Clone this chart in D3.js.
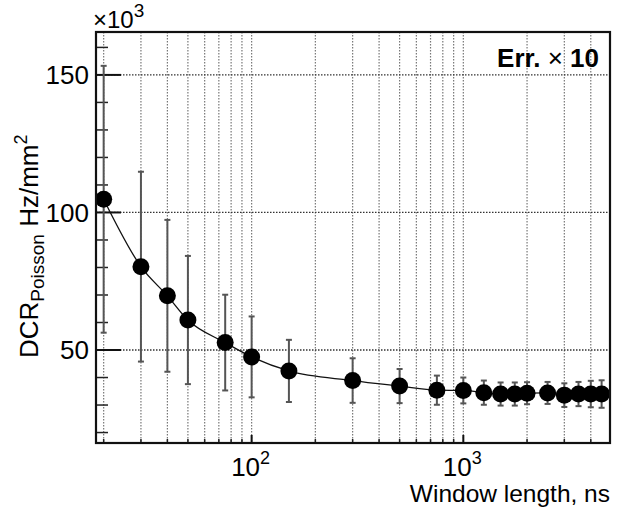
<!DOCTYPE html>
<html>
<head>
<meta charset="utf-8">
<script src="https://cdn.jsdelivr.net/npm/d3@7"></script>
<style>
html,body{margin:0;padding:0;background:#fff;}
svg{display:block;font-family:"Liberation Sans",Arial,Helvetica,sans-serif;}
</style>
</head>
<body>
<svg id="chart" width="632" height="512"></svg>
<script>
// Data (Window length in ns, DCR in 10^3 Hz/mm^2, error shown x10)
const windowLength = [20,30,40,50,75,100,150,300,500,750,1000,1250,1500,1750,2000,2500,3000,3500,4000,4500];
const dcrValues    = [104.8,80.3,69.7,60.9,52.7,47.5,42.4,38.9,36.9,35.4,35.3,34.5,34.0,34.0,34.3,34.4,33.6,34.0,34.0,34.0];
const dcrErrors    = [48.5,34.5,27.6,23.3,17.4,14.7,11.3,8.1,6.2,5.3,4.7,4.4,4.2,4.2,4.0,4.0,4.3,4.4,4.8,5.0];
const yMajorTicks  = [50,100,150];
const yMinorTicks  = [20,30,40,60,70,80,90,110,120,130,140,160];
const xMajorTicks  = [100,1000];
const xMinorTicks  = [20,30,40,50,60,70,80,90,200,300,400,500,600,700,800,900,2000,3000,4000];
const xTickLabels  = [["10","2"],["10","3"]];

const svg = d3.select("#chart");
const L = 96, R = 610, T = 32, B = 443;
const x = d3.scaleLog().domain([18.4, 4930]).range([L, R]);
const y = d3.scaleLinear().domain([16.2, 165.6]).range([B, T]);

// grid
const gridX = xMinorTicks.concat(xMajorTicks);
svg.append("g").selectAll("line").data(gridX).join("line")
  .attr("x1", d => x(d)).attr("x2", d => x(d))
  .attr("y1", T).attr("y2", B)
  .attr("stroke", "#777").attr("stroke-width", 1.2).attr("stroke-dasharray", "1.5,1.5");
svg.append("g").selectAll("line").data(yMajorTicks).join("line")
  .attr("x1", L).attr("x2", R)
  .attr("y1", d => y(d)).attr("y2", d => y(d))
  .attr("stroke", "#333").attr("stroke-width", 1.3).attr("stroke-dasharray", "1.5,1.5");

// y ticks
svg.append("g").selectAll("line").data(yMajorTicks).join("line")
  .attr("x1", L).attr("x2", L + 25)
  .attr("y1", d => y(d)).attr("y2", d => y(d))
  .attr("stroke", "#111").attr("stroke-width", 2);
svg.append("g").selectAll("line").data(yMinorTicks).join("line")
  .attr("x1", L).attr("x2", L + 12)
  .attr("y1", d => y(d)).attr("y2", d => y(d))
  .attr("stroke", "#222").attr("stroke-width", 1.5);
// x ticks
svg.append("g").selectAll("line").data(xMajorTicks).join("line")
  .attr("x1", d => x(d)).attr("x2", d => x(d))
  .attr("y1", B).attr("y2", B - 8)
  .attr("stroke", "#111").attr("stroke-width", 2);
svg.append("g").selectAll("line").data(xMinorTicks).join("line")
  .attr("x1", d => x(d)).attr("x2", d => x(d))
  .attr("y1", B).attr("y2", B - 4)
  .attr("stroke", "#222").attr("stroke-width", 1.5);

// y tick labels
svg.append("g").selectAll("text").data(yMajorTicks).join("text")
  .attr("x", 89).attr("y", d => y(d)).attr("dy", "0.35em")
  .attr("text-anchor", "end").attr("font-size", 26).attr("fill", "#000")
  .text(d => d);

// x tick labels
const xl = svg.append("g").selectAll("text").data(xMajorTicks).join("text")
  .attr("x", d => x(d) - 1).attr("y", 476)
  .attr("text-anchor", "middle").attr("font-size", 26).attr("fill", "#000");
xl.append("tspan").text((d, i) => xTickLabels[i][0]);
xl.append("tspan").attr("font-size", 18).attr("dy", -12).text((d, i) => xTickLabels[i][1]);

// multiplier
const mult = svg.append("text").attr("x", 93).attr("y", 28).attr("font-size", 24).attr("fill", "#000");
mult.append("tspan").text("\u00d710");
mult.append("tspan").attr("font-size", 19).attr("dy", -11).text("3");

// axis titles
svg.append("text").attr("x", 610).attr("y", 502).attr("text-anchor", "end")
  .attr("font-size", 24.5).attr("fill", "#000").text("Window length, ns");
const yt = svg.append("text").attr("transform", "translate(38,358) rotate(-90)")
  .attr("font-size", 26).attr("fill", "#000");
yt.append("tspan").text("DCR");
yt.append("tspan").attr("font-size", 19).attr("dy", 6).text("Poisson");
yt.append("tspan").attr("dy", -6).text(" Hz/mm");
yt.append("tspan").attr("font-size", 18).attr("dy", -11).text("2");

// legend-like text
const err = svg.append("text").attr("x", 599).attr("y", 67).attr("text-anchor", "end")
  .attr("font-size", 26).attr("font-weight", "bold").attr("fill", "#000");
err.append("tspan").text("Err. ");
err.append("tspan").attr("font-weight", "normal").text("\u00d7");
err.append("tspan").text(" 10");

// data
const pts = windowLength.map((w, i) => ({w, v: dcrValues[i], e: dcrErrors[i]}));
const eb = svg.append("g").attr("stroke", "#555").attr("stroke-width", 2);
eb.selectAll("line.v").data(pts).join("line").attr("class", "v")
  .attr("x1", d => x(d.w)).attr("x2", d => x(d.w))
  .attr("y1", d => y(d.v + d.e)).attr("y2", d => y(d.v - d.e));
eb.selectAll("line.t").data(pts).join("line").attr("class", "t")
  .attr("x1", d => x(d.w) - 3).attr("x2", d => x(d.w) + 3)
  .attr("y1", d => y(d.v + d.e)).attr("y2", d => y(d.v + d.e));
eb.selectAll("line.b").data(pts).join("line").attr("class", "b")
  .attr("x1", d => x(d.w) - 3).attr("x2", d => x(d.w) + 3)
  .attr("y1", d => y(d.v - d.e)).attr("y2", d => y(d.v - d.e));

svg.append("path").datum(pts)
  .attr("d", d3.line().x(d => x(d.w)).y(d => y(d.v)).curve(d3.curveMonotoneX))
  .attr("fill", "none").attr("stroke", "#111").attr("stroke-width", 1.3);

svg.append("g").selectAll("circle").data(pts).join("circle")
  .attr("cx", d => x(d.w)).attr("cy", d => y(d.v)).attr("r", 8.5).attr("fill", "#000");

// frame
svg.append("rect").attr("x", L).attr("y", T).attr("width", R - L).attr("height", B - T)
  .attr("fill", "none").attr("stroke", "#111").attr("stroke-width", 2.2);
</script>
</body>
</html>
